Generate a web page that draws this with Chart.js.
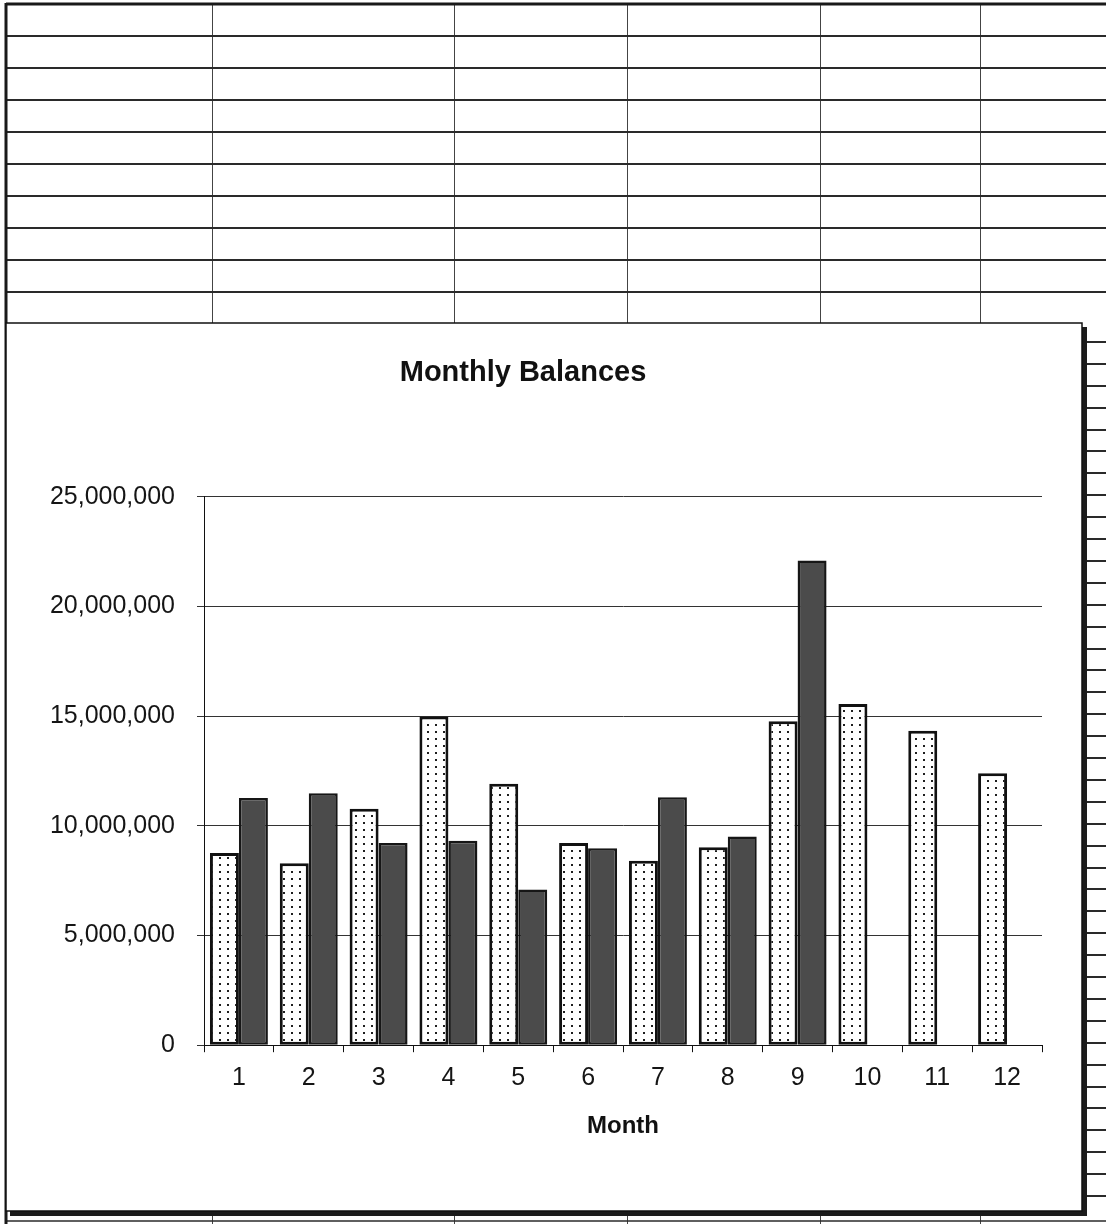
<!DOCTYPE html>
<html>
<head>
<meta charset="utf-8">
<script src="https://cdn.jsdelivr.net/npm/chart.js@4/dist/chart.umd.min.js"></script>
<style>
  html, body { margin: 0; padding: 0; background: #fff; }
  #balanceChart { display: block; }
</style>
</head>
<body>
<canvas id="balanceChart" width="1106" height="1224"></canvas>
<script>
// values
const months = ['1', '2', '3', '4', '5', '6', '7', '8', '9', '10', '11', '12'];
const balancesA = [8760000, 8290000, 10780000, 14980000, 11920000, 9220000, 8410000, 9020000, 14770000, 15550000, 14330000, 12400000];
const balancesB = [11270000, 11490000, 9220000, 9320000, 7100000, 8980000, 11300000, 9510000, 22100000, null, null, null];
const yTicks = [0, 5000000, 10000000, 15000000, 20000000, 25000000];

const FONT = "'Liberation Sans', Arial, sans-serif";

// dotted fill for the light bars
function dotPattern() {
    const tile = document.createElement('canvas');
    tile.width = 8;
    tile.height = 7;
    const t = tile.getContext('2d');
    t.fillStyle = '#ffffff';
    t.fillRect(0, 0, 8, 7);
    t.fillStyle = '#1e1e1e';
    t.fillRect(3, 3, 2, 2);
    return t.createPattern(tile, 'repeat');
}

// spreadsheet behind the chart object
const sheetPlugin = {
    id: 'sheet',
    beforeDraw(chart) {
        const ctx = chart.ctx;
        const W = chart.width, H = chart.height;
        ctx.save();
        ctx.fillStyle = '#ffffff';
        ctx.fillRect(0, 0, W, H);

        const cols = [212, 454, 627, 820, 980];
        ctx.strokeStyle = '#444';
        ctx.lineWidth = 1;
        cols.forEach(x => {
            ctx.beginPath();
            ctx.moveTo(x + 0.5, 4); ctx.lineTo(x + 0.5, 323);
            ctx.moveTo(x + 0.5, 1214); ctx.lineTo(x + 0.5, H);
            ctx.stroke();
        });

        ctx.strokeStyle = '#2a2a2a';
        ctx.lineWidth = 2;
        for (let y = 36; y < 323; y += 32) {
            ctx.beginPath();
            ctx.moveTo(6, y); ctx.lineTo(W, y);
            ctx.stroke();
        }
        for (let y = 342; y < 1210; y += 21.9) {
            ctx.beginPath();
            ctx.moveTo(1087, Math.round(y)); ctx.lineTo(W, Math.round(y));
            ctx.stroke();
        }
        ctx.lineWidth = 1.5;
        ctx.beginPath();
        ctx.moveTo(6, 1221); ctx.lineTo(W, 1221);
        ctx.stroke();

        // outer sheet border
        ctx.strokeStyle = '#1a1a1a';
        ctx.lineWidth = 3;
        ctx.beginPath();
        ctx.moveTo(6, 4); ctx.lineTo(W, 4);
        ctx.moveTo(6, 3); ctx.lineTo(6, H);
        ctx.stroke();

        // chart object box + shadow
        ctx.fillStyle = '#1c1c1c';
        ctx.fillRect(1082, 327, 5, 889);
        ctx.fillRect(10, 1211, 1077, 5);
        ctx.fillStyle = '#ffffff';
        ctx.fillRect(6, 323, 1076, 888);
        ctx.strokeStyle = '#111';
        ctx.lineWidth = 1.5;
        ctx.strokeRect(6, 323, 1076, 888);
        ctx.restore();
    }
};

const ctx = document.querySelector('#balanceChart').getContext('2d');

const data = {
    labels: months,
    datasets: [
        {
            label: 'Series 1',
            data: balancesA,
            backgroundColor: dotPattern(),
            borderColor: '#111111',
            borderWidth: 3,
            borderSkipped: false,
            categoryPercentage: 0.83,
            barPercentage: 1.0
        },
        {
            label: 'Series 2',
            data: balancesB,
            backgroundColor: '#4b4b4b',
            borderColor: '#161616',
            borderWidth: 2.5,
            borderSkipped: false,
            categoryPercentage: 0.83,
            barPercentage: 1.0
        }
    ]
};

const config = {
    type: 'bar',
    data: data,
    options: {
        responsive: false,
        animation: false,
        devicePixelRatio: 1,
        layout: {
            padding: { left: 4, right: 64, top: 356, bottom: 83 }
        },
        scales: {
            x: {
                grid: {
                    offset: true,
                    drawOnChartArea: false,
                    drawTicks: true,
                    tickLength: 7,
                    color: '#111'
                },
                border: { display: true, color: '#111', width: 1 },
                ticks: {
                    color: '#151515',
                    padding: 11,
                    font: { family: FONT, size: 25 }
                },
                title: {
                    display: true,
                    text: 'Month',
                    color: '#111',
                    padding: { top: 8, bottom: 0 },
                    font: { family: FONT, size: 24, weight: 'bold' }
                }
            },
            y: {
                min: 0,
                max: 25000000,
                afterFit(scale) { scale.width = 200; },
                afterBuildTicks(scale) { scale.ticks = yTicks.map(v => ({ value: v })); },
                grid: {
                    color: '#333',
                    lineWidth: 1,
                    tickLength: 7
                },
                border: { display: true, color: '#111', width: 1 },
                ticks: {
                    color: '#151515',
                    padding: 22,
                    font: { family: FONT, size: 25 },
                    callback: v => v.toLocaleString('en-US')
                }
            }
        },
        plugins: {
            legend: { display: false },
            tooltip: { enabled: false },
            title: {
                display: true,
                text: 'Monthly Balances',
                color: '#111',
                padding: { top: 0, bottom: 106 },
                font: { family: FONT, size: 29, weight: 'bold' }
            }
        }
    },
    plugins: [sheetPlugin]
};

new Chart(ctx, config);
</script>
</body>
</html>
